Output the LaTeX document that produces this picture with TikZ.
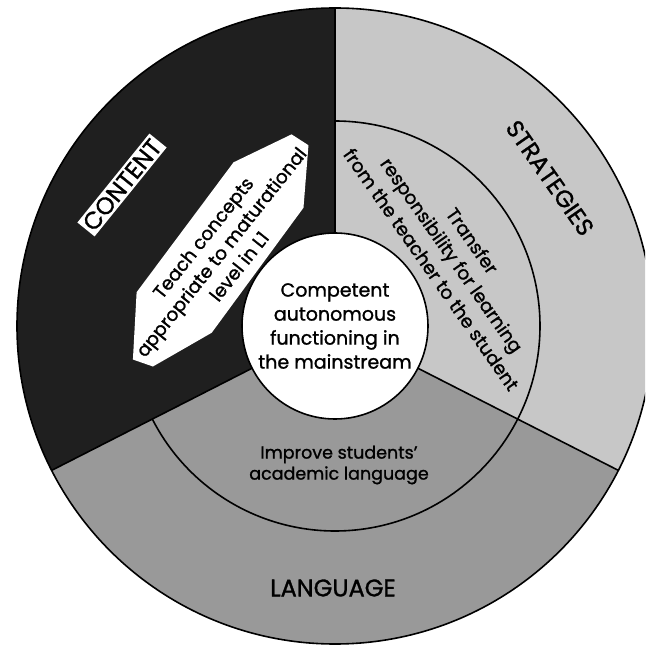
\documentclass[tikz,border=0pt]{standalone}
\usepackage{fontspec}
\setmainfont{Poppins}[FakeBold=1.2]
\usetikzlibrary{calc}

\definecolor{contentgray}{gray}{0.12}
\definecolor{strategygray}{gray}{0.78}
\definecolor{languagegray}{gray}{0.60}

\begin{document}
\begin{tikzpicture}[x=1pt,y=1pt,
	divider/.style={line width=1.6pt},
	caption/.style={font=\fontsize{19}{24}\selectfont, align=center, inner sep=0pt},
	heading/.style={font=\fontsize{24}{26}\selectfont, inner sep=2.5pt}]

% parameters %{{{2

	\def\outerradius{318}
	\def\middleradius{205}
	\def\innerradius{93}
	\def\leftangle{207}
	\def\rightangle{333}

% frame %{{{2

	\useasboundingbox (-335,-326) rectangle (310,326);
	\clip (-335,-326) rectangle (310,326);
	\coordinate (O) at (0,0);
	\coordinate (teachcentre) at (-114,74);

% sectors %{{{2

	\fill[contentgray] (O) -- (90:\outerradius)
		arc[start angle=90, end angle=\leftangle, radius=\outerradius] -- cycle;
	\fill[languagegray] (O) -- (\leftangle:\outerradius)
		arc[start angle=\leftangle, end angle=\rightangle, radius=\outerradius] -- cycle;
	\fill[strategygray] (O) -- (\rightangle:\outerradius)
		arc[start angle=\rightangle, end angle=450, radius=\outerradius] -- cycle;

% rings and dividers %{{{2

	\draw[divider] (O) circle (\outerradius);
	\draw[divider] (90:\middleradius)
		arc[start angle=90, end angle=\leftangle-360, radius=\middleradius];
	\foreach \a in {90,\leftangle,\rightangle} { \draw[divider] (O) -- (\a:\outerradius); }
	\draw[divider, fill=white] (O) circle (\innerradius);

% content box %{{{2

	\begin{scope}[shift={(teachcentre)}, rotate=51.5]
		\fill[white] (136,18) -- (138,-2) -- (86,-37) -- (-69,-43)
			-- (-132,-18) -- (-139,2) -- (-84,41) -- (78,46) -- cycle;
	\end{scope}

% labels %{{{2

	\node[heading, fill=white, rotate=51] (content) at (-213,141) {CONTENT};
	\node[caption, font=\fontsize{18.5}{23}\selectfont, rotate=51.5] (teach) at (teachcentre)
		{Teach concepts\\appropriate to maturational\\level in L1};

	\node[heading, rotate=-55] (strategies) at (215,148) {STRATEGIES};
	\node[caption, font=\fontsize{18.5}{25}\selectfont, rotate=-55] (transfer) at (117,71)
		{Transfer\\responsibility for learning\\from the teacher to the student};

	\node[caption] (goal) at (0,0)
		{Competent\\autonomous\\functioning in\\the mainstream};

	\node[caption, font=\fontsize{17.5}{21}\selectfont] (improve) at (4,-139)
		{Improve students'\\academic language};
	\node[heading] (language) at (-2,-262) {LANGUAGE};

% closing %{{{2

\end{tikzpicture}
\end{document}
